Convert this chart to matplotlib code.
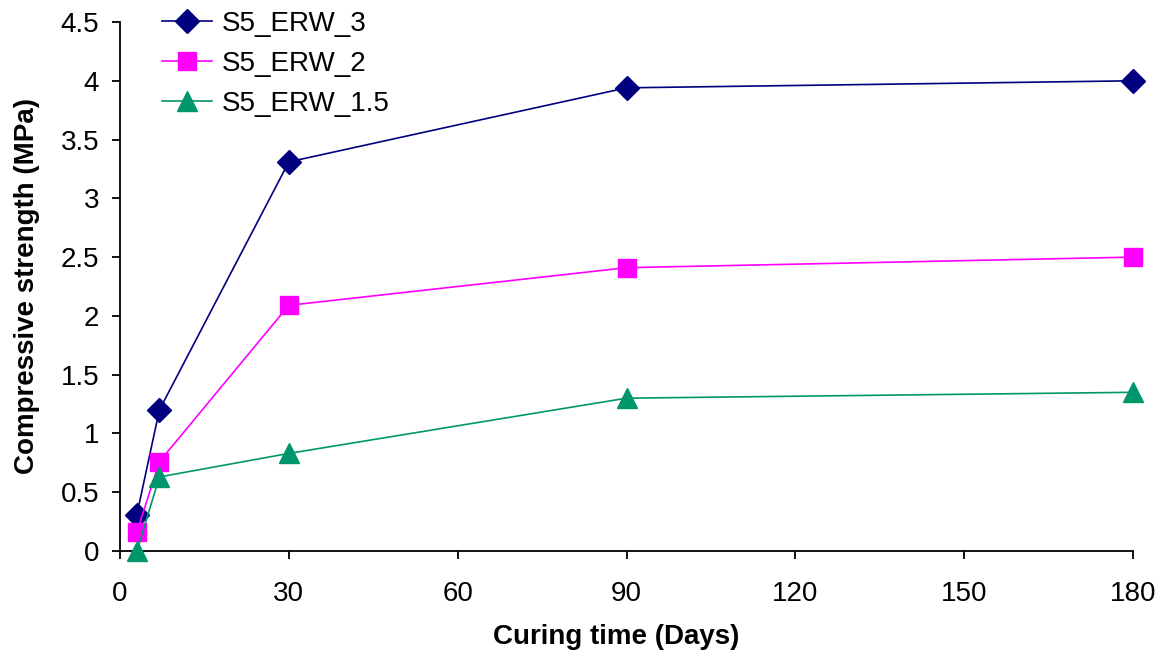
import matplotlib.pyplot as plt

# Curing time (days) and compressive strength (MPa)
dias = [3, 7, 30, 90, 180]
erw_3 = [0.31, 1.20, 3.31, 3.94, 4.00]
erw_2 = [0.16, 0.76, 2.09, 2.41, 2.50]
erw_15 = [0.00, 0.63, 0.83, 1.30, 1.35]

x_ticks = [0, 30, 60, 90, 120, 150, 180]
y_ticks = [0, 0.5, 1, 1.5, 2, 2.5, 3, 3.5, 4, 4.5]

plt.rcParams["font.family"] = ["Liberation Sans", "DejaVu Sans"]

fig = plt.figure(figsize=(11.64, 6.59), dpi=100)
ax = fig.add_axes([120 / 1164, 1 - 551 / 659, (1133 - 120) / 1164, (551 - 22) / 659])

ax.plot(dias, erw_3, color="#000080", marker="D", markersize=12, lw=1.2, label="S5_ERW_3", clip_on=False, zorder=3)
ax.plot(dias, erw_2, color="#FF00FF", marker="s", markersize=13, lw=1.2, label="S5_ERW_2", clip_on=False, zorder=3)
ax.plot(dias, erw_15, color="#00966B", marker="^", markersize=14, lw=1.2, label="S5_ERW_1.5", clip_on=False, zorder=3)

ax.set_xlim(0, 180)
ax.set_ylim(0, 4.5)
ax.set_xticks(x_ticks)
ax.set_yticks(y_ticks)
ax.set_xticklabels([str(t) for t in x_ticks], fontsize=20)
ax.set_yticklabels([f"{t:g}" for t in y_ticks], fontsize=20)
ax.tick_params(axis="both", direction="out", length=6, width=1.3, colors="black")
ax.tick_params(axis="x", pad=15.5)
ax.tick_params(axis="y", pad=9)

ax.spines["top"].set_visible(False)
ax.spines["right"].set_visible(False)
ax.spines["left"].set_linewidth(1.3)
ax.spines["bottom"].set_linewidth(1.3)

ax.set_xlabel("Curing time (Days)", fontsize=20, fontweight="bold", labelpad=12)
ax.xaxis.label.set_x(0.49)
ax.set_ylabel("Compressive strength (MPa)", fontsize=20, fontweight="bold", labelpad=15)

ax.legend(loc="upper left", bbox_to_anchor=(0.022, 1.058), frameon=False, fontsize=20,
          handlelength=1.8, handletextpad=0.35, labelspacing=0.5, borderpad=0.2)

plt.savefig("out.png", dpi=100)
